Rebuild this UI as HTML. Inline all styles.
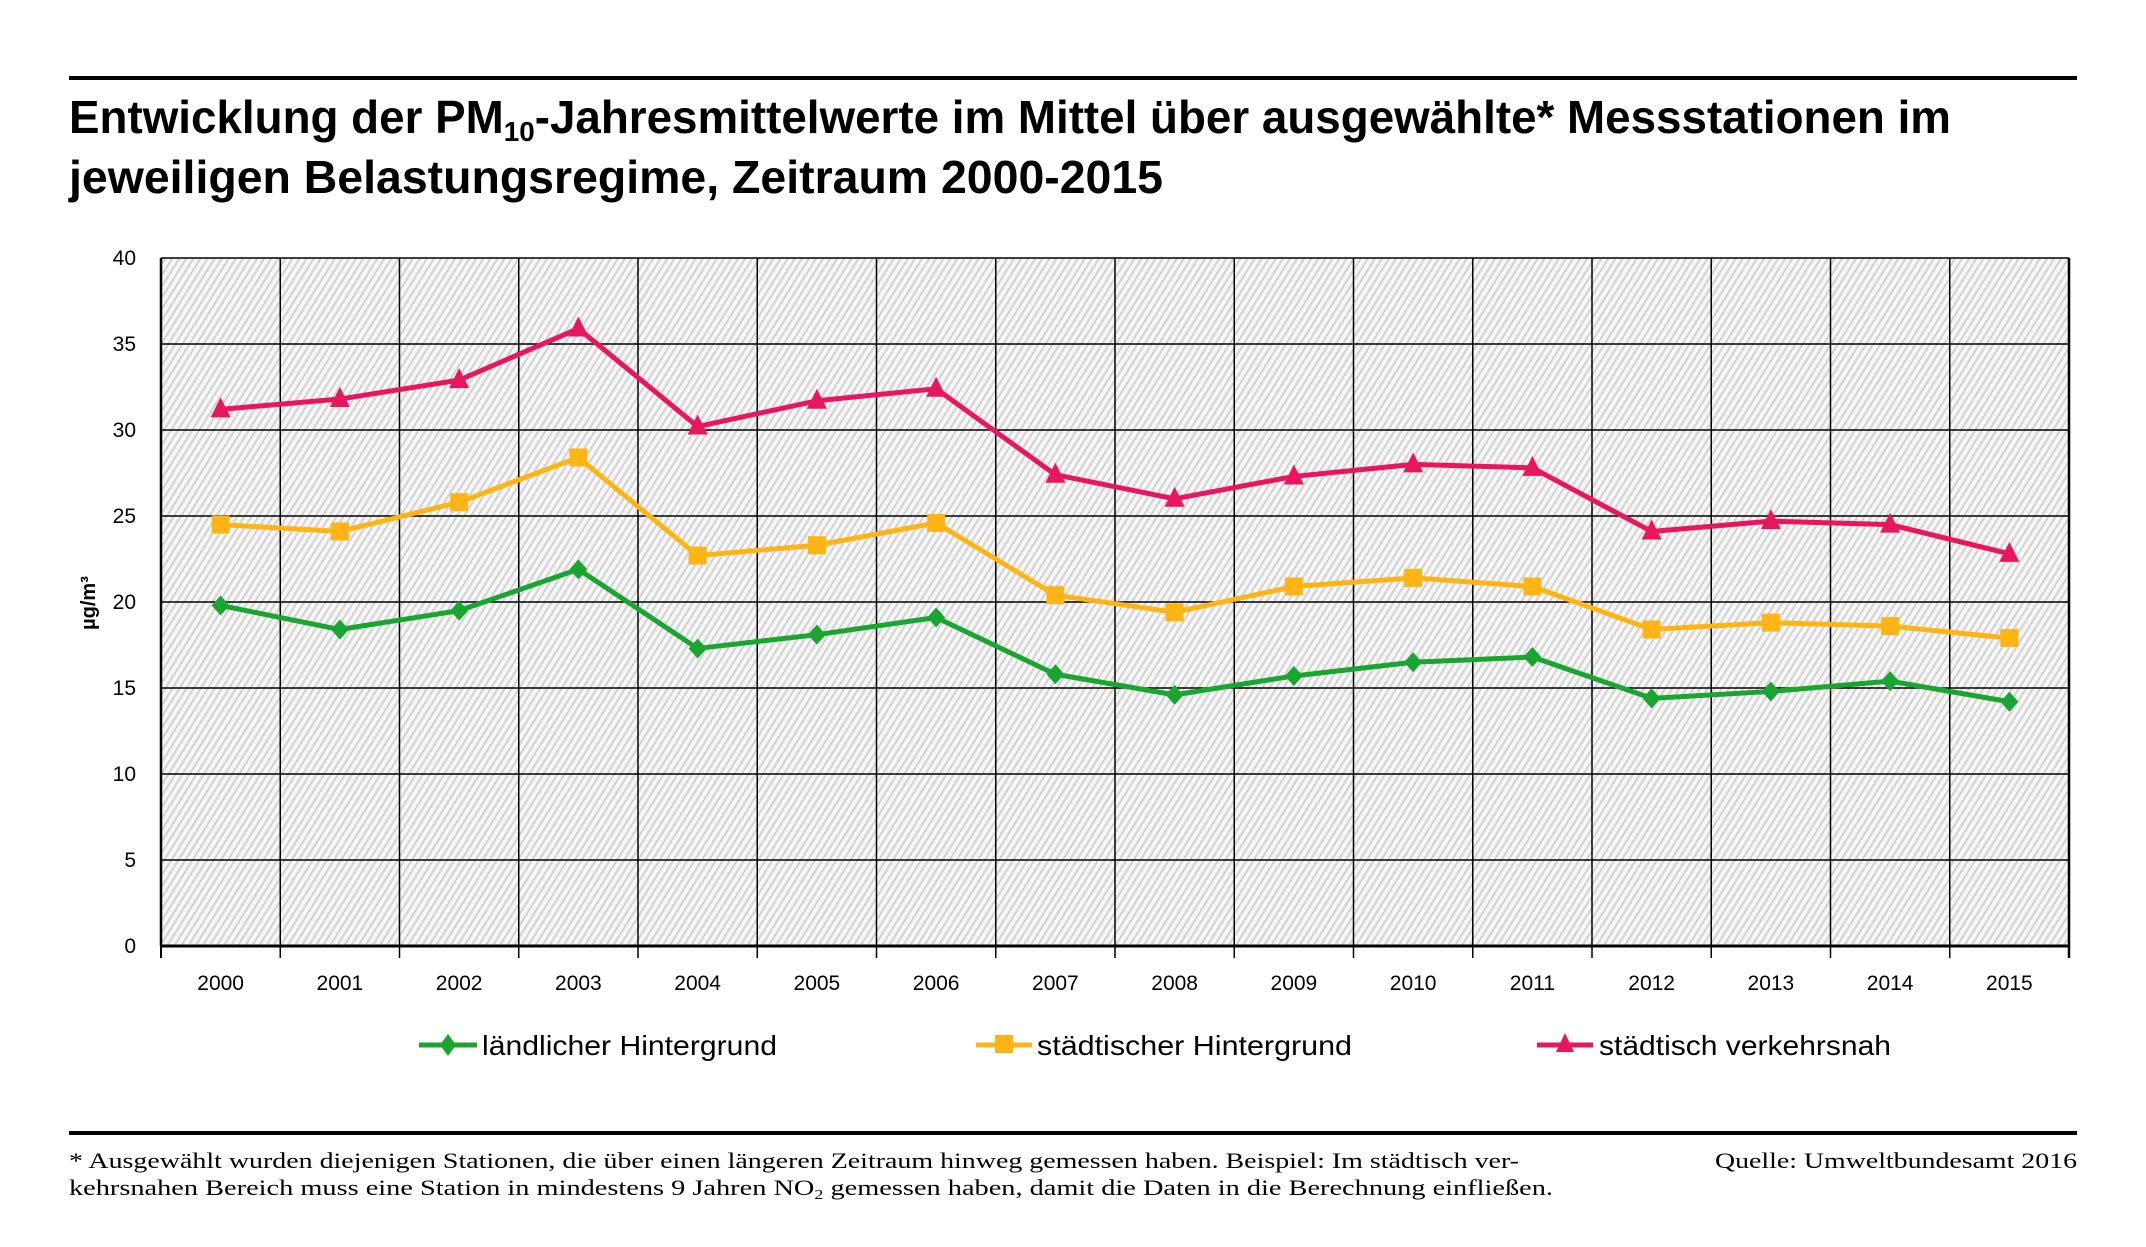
<!DOCTYPE html>
<html><head><meta charset="utf-8"><style>
html,body{margin:0;padding:0;background:#fff;}
svg{display:block;}
</style></head><body>
<svg width="2146" height="1247" viewBox="0 0 2146 1247" xmlns="http://www.w3.org/2000/svg">
<defs>
<pattern id="h" patternUnits="userSpaceOnUse" width="6" height="6" patternTransform="rotate(32)">
<rect width="6" height="6" fill="#f6f6f6"/>
<rect x="0" y="0" width="2" height="6" fill="#d2d2d2"/>
</pattern>
</defs>
<rect x="69" y="76" width="2008" height="4" fill="#000"/>
<text font-family="Liberation Sans, sans-serif" font-weight="bold" font-size="46" x="69" y="133" textLength="1882" lengthAdjust="spacingAndGlyphs">Entwicklung der PM<tspan font-size="28" dy="8">10</tspan><tspan dy="-8">-Jahresmittelwerte im Mittel über ausgewählte* Messstationen im</tspan></text>
<text font-family="Liberation Sans, sans-serif" font-weight="bold" font-size="46" x="69" y="193" textLength="1094" lengthAdjust="spacingAndGlyphs">jeweiligen Belastungsregime, Zeitraum 2000-2015</text>

<rect x="161" y="258" width="1908" height="688" fill="url(#h)"/>
<g stroke="#000" stroke-width="1.5" id="grid"></g>
<g id="plot"></g>
<g font-family="Liberation Sans, sans-serif" font-size="21" fill="#000" id="labels"></g>
<text font-family="Liberation Sans, sans-serif" font-weight="bold" font-size="20" transform="translate(95,603) rotate(-90)" text-anchor="middle">µg/m³</text>

<g font-family="Liberation Sans, sans-serif" font-size="28">
<line x1="419" y1="1045" x2="477" y2="1045" stroke="#1aa531" stroke-width="5"/>
<path d="M448 1034 L456 1045 L448 1056 L440 1045 Z" fill="#1aa531"/>
<text x="482" y="1055" textLength="295" lengthAdjust="spacingAndGlyphs">ländlicher Hintergrund</text>
<line x1="976" y1="1045" x2="1032" y2="1045" stroke="#fdb515" stroke-width="5"/>
<rect x="995" y="1035" width="18" height="18" fill="#fdb515"/>
<text x="1037" y="1055" textLength="315" lengthAdjust="spacingAndGlyphs">städtischer Hintergrund</text>
<line x1="1537" y1="1045" x2="1593" y2="1045" stroke="#e8175d" stroke-width="5"/>
<path d="M1565 1033 L1574 1052 L1556 1052 Z" fill="#e8175d"/>
<text x="1599" y="1055" textLength="292" lengthAdjust="spacingAndGlyphs">städtisch verkehrsnah</text>
</g>

<rect x="69" y="1131" width="2008" height="4" fill="#000"/>
<g font-family="Liberation Serif, serif" font-size="22">
<text x="69" y="1168" textLength="1450" lengthAdjust="spacingAndGlyphs">* Ausgewählt wurden diejenigen Stationen, die über einen längeren Zeitraum hinweg gemessen haben. Beispiel: Im städtisch ver-</text>
<text x="69" y="1195" textLength="1484" lengthAdjust="spacingAndGlyphs">kehrsnahen Bereich muss eine Station in mindestens 9 Jahren NO<tspan font-size="14" dy="4">2</tspan><tspan dy="-4"> gemessen haben, damit die Daten in die Berechnung einfließen.</tspan></text>
<text x="2077" y="1168" text-anchor="end" textLength="362" lengthAdjust="spacingAndGlyphs">Quelle: Umweltbundesamt 2016</text>
</g>
<script>
(function(){
var ns="http://www.w3.org/2000/svg";
var L=161,R=2069,T=258,B=946,cw=(R-L)/16;
function X(i){return L+cw*(i+0.5);}
function Y(v){return B-(v/40)*(B-T);}
function el(p,n,a,t){var e=document.createElementNS(ns,n);for(var k in a)e.setAttribute(k,a[k]);if(t!=null)e.textContent=t;p.appendChild(e);return e;}
var g=document.getElementById("grid");
for(var v=5;v<=40;v+=5)el(g,"line",{x1:L,x2:R,y1:Y(v),y2:Y(v)});
for(var i=1;i<16;i++)el(g,"line",{x1:L+cw*i,x2:L+cw*i,y1:T,y2:B+12});
el(g,"line",{x1:L,x2:L,y1:T,y2:B,"stroke-width":2.5});
el(g,"line",{x1:R,x2:R,y1:T,y2:B+12,"stroke-width":2.5});
el(g,"line",{x1:L,x2:R,y1:B,y2:B,"stroke-width":3});
el(g,"line",{x1:L,x2:L,y1:B,y2:B+12,"stroke-width":2});
var lb=document.getElementById("labels");
for(var v=0;v<=40;v+=5)el(lb,"text",{x:136,y:Y(v)+7,"text-anchor":"end"},""+v);
for(var i=0;i<16;i++)el(lb,"text",{x:X(i),y:990,"text-anchor":"middle"},""+(2000+i));
var red=[31.2,31.8,32.9,35.9,30.2,31.7,32.4,27.4,26.0,27.3,28.0,27.8,24.1,24.7,24.5,22.8];
var org=[24.5,24.1,25.8,28.4,22.7,23.3,24.6,20.4,19.4,20.9,21.4,20.9,18.4,18.8,18.6,17.9];
var grn=[19.8,18.4,19.5,21.9,17.3,18.1,19.1,15.8,14.6,15.7,16.5,16.8,14.4,14.8,15.4,14.2];
var p=document.getElementById("plot");
function series(d,c,m){
 var pts=d.map(function(v,i){return X(i)+","+Y(v);}).join(" ");
 el(p,"polyline",{points:pts,fill:"none",stroke:c,"stroke-width":5,"stroke-linejoin":"round"});
 d.forEach(function(v,i){var x=X(i),y=Y(v);
  if(m=="d")el(p,"path",{d:"M"+x+" "+(y-10)+"L"+(x+9)+" "+y+"L"+x+" "+(y+10)+"L"+(x-9)+" "+y+"Z",fill:c});
  else if(m=="s")el(p,"rect",{x:x-9,y:y-9,width:18,height:18,fill:c});
  else el(p,"path",{d:"M"+x+" "+(y-12)+"L"+(x+10)+" "+(y+8)+"L"+(x-10)+" "+(y+8)+"Z",fill:c});
 });
}
series(grn,"#1aa531","d");
series(org,"#fdb515","s");
series(red,"#e8175d","t");
})();
</script>
</svg>
</body></html>
